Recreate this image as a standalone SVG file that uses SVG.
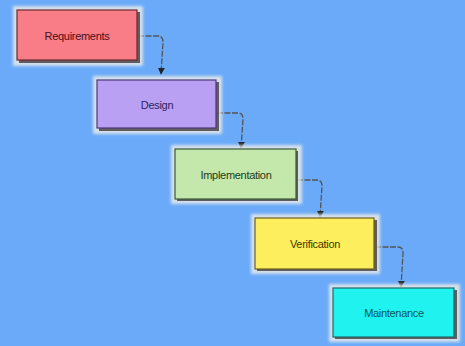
<svg xmlns="http://www.w3.org/2000/svg" width="465" height="346" viewBox="0 0 465 346">
<defs>
<filter id="glow" x="-10%" y="-20%" width="120%" height="140%"><feGaussianBlur stdDeviation="1.5"/></filter>
<marker id="ah" viewBox="0 0 10 10" refX="9" refY="5" markerWidth="7" markerHeight="7" markerUnits="userSpaceOnUse" orient="auto"><path d="M0,0 L10,5 L0,10 Z" fill="#222"/></marker>
</defs>
<style>
.halo{fill:#f2eee8;opacity:0.8;filter:url(#glow)}
.shadow{fill:#3a3030;opacity:0.75}
.box{stroke-width:1.2}
.lbl{font-family:"Liberation Sans",Arial,sans-serif;font-size:11px;text-anchor:middle;dominant-baseline:central;letter-spacing:-0.3px}
.conn{fill:none;stroke:#555;stroke-width:1.3;stroke-dasharray:6 1.5}
</style>
<rect width="465" height="346" fill="#6aaaf8"/>
<g id="connectors">
<path class="conn" d="M138,36 L158,36 Q163,36 163,42 L161,74" marker-end="url(#ah)"/>
<path class="conn" d="M217,113 L238,113 Q243,113 243,119 L241,148" marker-end="url(#ah)"/>
<path class="conn" d="M297,180 L317,180 Q322,180 322,186 L320,217" marker-end="url(#ah)"/>
<path class="conn" d="M375,247 L398,247 Q403,247 403,253 L401,287" marker-end="url(#ah)"/>
</g>
<g id="requirements">
<rect class="halo" x="13" y="6" width="130" height="60"/>
<rect class="shadow" x="19" y="12" width="121" height="51"/>
<rect class="box" x="17" y="10" width="120" height="50" fill="#f87d86" stroke="#6a2a30"/>
<text class="lbl" x="77" y="36" fill="#4a1018">Requirements</text>
</g>
<g id="design">
<rect class="halo" x="93" y="76" width="129" height="58"/>
<rect class="shadow" x="99" y="82" width="120" height="49"/>
<rect class="box" x="97" y="80" width="119" height="48" fill="#b9a0f2" stroke="#4a3a78"/>
<text class="lbl" x="157" y="105" fill="#2e1f60">Design</text>
</g>
<g id="implementation">
<rect class="halo" x="171" y="145" width="131" height="59"/>
<rect class="shadow" x="177" y="151" width="121" height="50"/>
<rect class="box" x="175" y="149" width="121" height="50" fill="#c4e8ac" stroke="#3a5a38"/>
<text class="lbl" x="236" y="175" fill="#1c3a18">Implementation</text>
</g>
<g id="verification">
<rect class="halo" x="251" y="214" width="129" height="60"/>
<rect class="shadow" x="257" y="220" width="120" height="51"/>
<rect class="box" x="255" y="218" width="119" height="51" fill="#fcee5c" stroke="#6a6020"/>
<text class="lbl" x="315" y="244" fill="#3e3800">Verification</text>
</g>
<g id="maintenance">
<rect class="halo" x="329" y="284" width="131" height="58"/>
<rect class="shadow" x="335" y="290" width="122" height="49"/>
<rect class="box" x="333" y="288" width="121" height="49" fill="#20f2f0" stroke="#206a68"/>
<text class="lbl" x="394" y="313" fill="#005858">Maintenance</text>
</g>
</svg>
